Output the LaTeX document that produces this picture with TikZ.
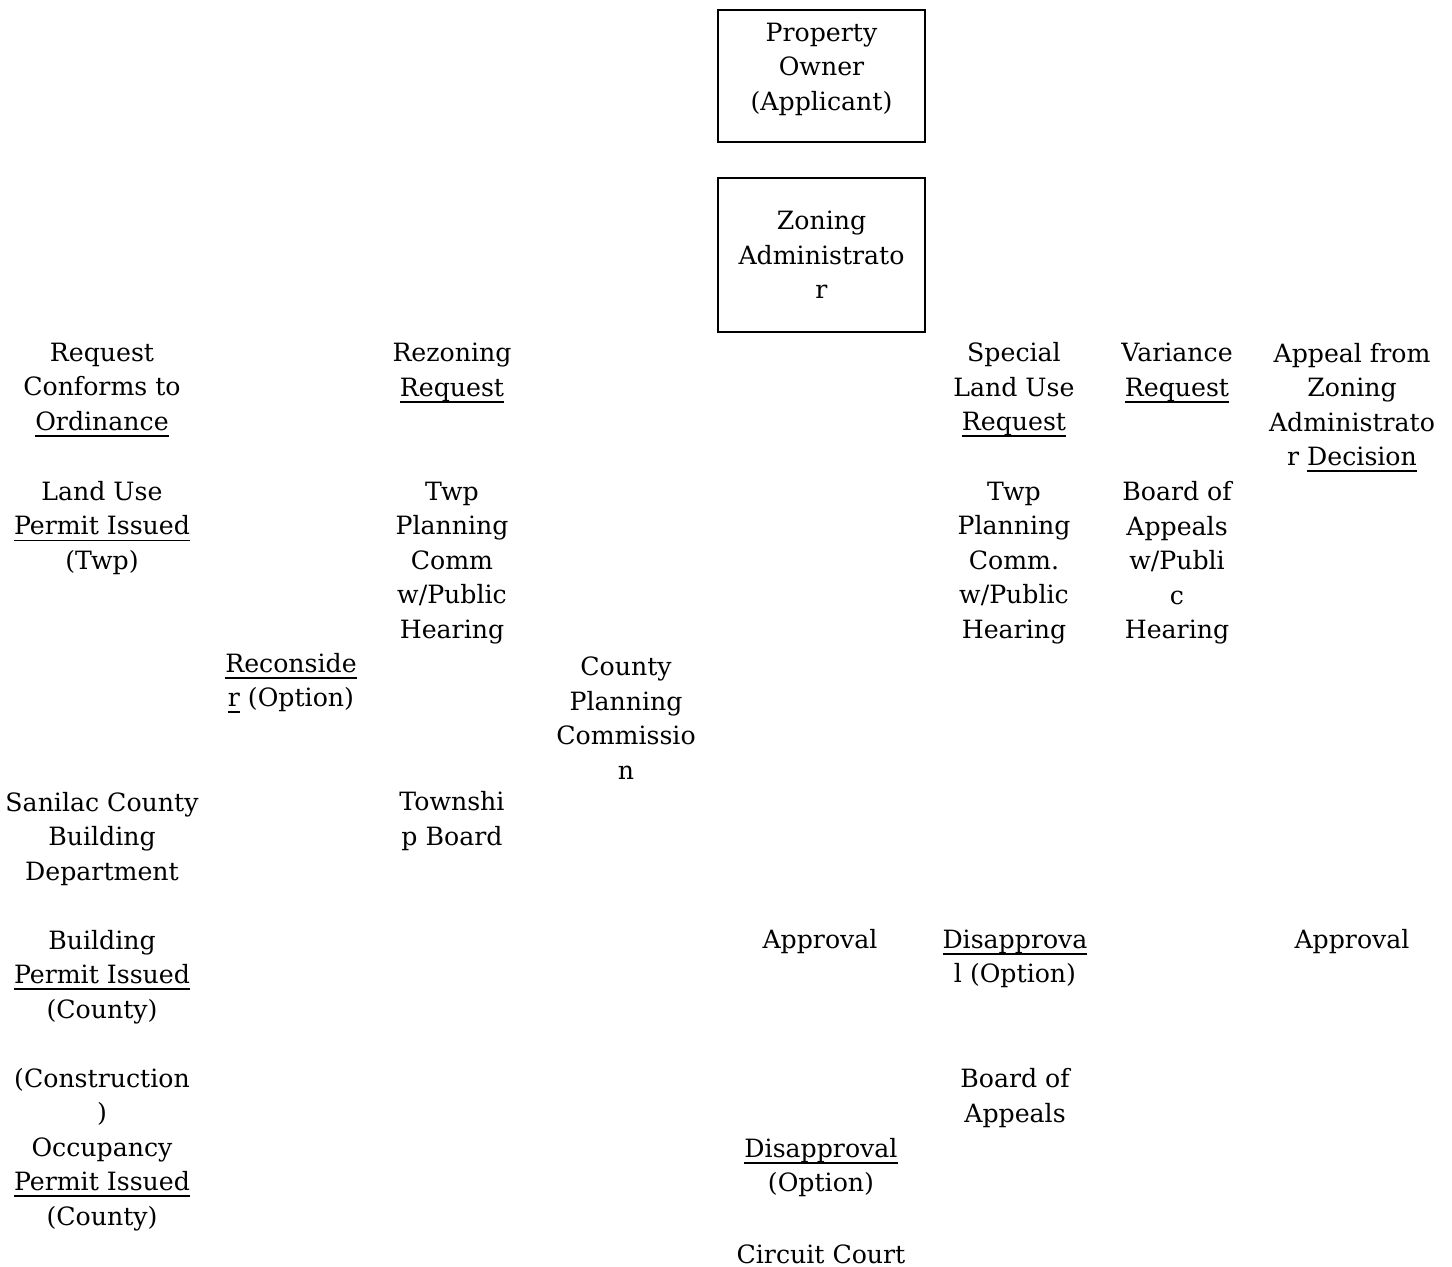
\documentclass[tikz,border=0pt]{standalone}
\usepackage{fontspec}
\setmainfont{DejaVu Serif}
\newcommand{\ulword}[1]{\setbox0\hbox{#1}\rlap{\rule[-3.2pt]{\wd0}{0.9pt}}\box0\relax}
\tikzset{every picture/.style={line width=0.75pt}}
\tikzset{
  lbl/.style={align=center,inner sep=0pt,yshift=-1.5pt,font=\fontsize{12.6pt}{17.25pt}\selectfont},
  adminbox/.style={draw,line width=1pt,minimum width=103.5pt,inner sep=0pt}
}

\begin{document}
\begin{tikzpicture}[x=0.5pt,y=0.5pt,yscale=-1,xscale=1]
\useasboundingbox (0,0) rectangle (1452,1267);

% Boxes at the top
\node [adminbox,minimum height=66pt] (ownerbox) at (821.5,76) {};
\node [lbl] (owner) at (821.5,66) {Property\\Owner\\(Applicant)};
\node [adminbox,lbl,yshift=1.5pt,minimum width=103.5pt,minimum height=77pt] (zoning) at (821.5,255) {Zoning\\Administrato\\r};

% Left column
\node [lbl] (conforms) at (102,387) {Request\\Conforms to\\\ulword{Ordinance}};
\node [lbl] (landuse) at (102,525) {Land Use\\\ulword{Permit Issued}\\(Twp)};
\node [lbl] (sanilac) at (102,836) {Sanilac County\\Building\\Department};
\node [lbl] (building) at (102,974) {Building\\\ulword{Permit Issued}\\(County)};
\node [lbl] (occupancy) at (102,1146.5) {(Construction\\)\\Occupancy\\\ulword{Permit Issued}\\(County)};

% Rezoning
\node [lbl] (rezoning) at (452,370) {Rezoning\\\ulword{Request}};
\node [lbl] (twpcomm) at (452,560) {Twp\\Planning\\Comm\\w/Public\\Hearing};
\node [lbl] (reconsider) at (291,680) {\ulword{Reconside}\\\ulword{r} (Option)};
\node [lbl] (county) at (626,715) {County\\Planning\\Commissio\\n};
\node [lbl] (township) at (452,818) {Townshi\\p Board};

% Special land use, variance, appeal
\node [lbl] (special) at (1014,387) {Special\\Land Use\\\ulword{Request}};
\node [lbl] (variance) at (1177,370) {Variance\\\ulword{Request}};
\node [lbl] (appeal) at (1352,404.5) {Appeal from\\Zoning\\Administrato\\r \ulword{Decision}};
\node [lbl] (twpcomm2) at (1014,560) {Twp\\Planning\\Comm.\\w/Public\\Hearing};
\node [lbl] (appeals) at (1177,560) {Board of\\Appeals\\w/Publi\\c\\Hearing};

% Outcomes
\node [lbl] (approval) at (820,939) {Approval};
\node [lbl] (disapproval) at (1015,956) {\ulword{Disapprova}\\l (Option)};
\node [lbl] (approval2) at (1352,939) {Approval};
\node [lbl] (appeals2) at (1015,1095) {Board of\\Appeals};
\node [lbl] (disapproval2) at (821,1164.5) {\ulword{Disapproval}\\(Option)};
\node [lbl] (court) at (821,1251) {Circuit Court};

\end{tikzpicture}
\end{document}
